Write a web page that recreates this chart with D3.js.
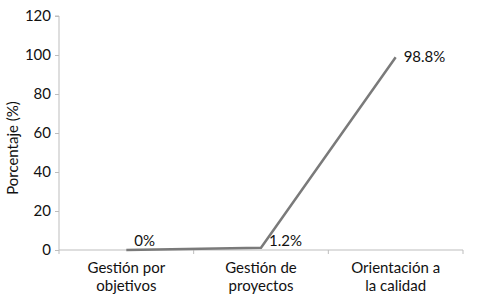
<!DOCTYPE html>
<html><head><meta charset="utf-8">
<script src="https://cdn.jsdelivr.net/npm/d3@7"></script>
<style>
html,body{margin:0;padding:0;background:#fff;}
text{font-family:Lato,"Open Sans",sans-serif;fill:#111;}
</style></head>
<body><svg id="c" width="477" height="297"></svg>
<script>
const categories = ["Gestión por\nobjetivos", "Gestión de\nproyectos", "Orientación a\nla calidad"];
const values = [0, 1.2, 98.8];
const valueLabels = ["0%", "1.2%", "98.8%"];
const yTicks = [0, 20, 40, 60, 80, 100, 120];
const yTitle = "Porcentaje (%)";

(function () {
const svg = d3.select("#c");
const mLeft = 59, mRight = 463, mTop = 16, mBottom = 250;
const fs = 15;
const x = d3.scaleBand().domain(categories).range([mLeft, mRight]);
const y = d3.scaleLinear().domain([0, 120]).range([mBottom, mTop]);
const axisColor = "#bdbdbd";

// y axis
const ya = svg.append("g").attr("transform", `translate(${mLeft},0)`)
  .call(d3.axisLeft(y).tickValues(yTicks).tickSize(4).tickPadding(4));
ya.select(".domain").attr("stroke", axisColor).attr("d", `M-4,${y(120)}H0V${mBottom}`);
ya.selectAll(".tick line").attr("stroke", axisColor);
ya.selectAll(".tick text").attr("font-size", fs).attr("fill", "#111")
  .style("font-family", 'Lato,"Open Sans",sans-serif');

// x axis
const xa = svg.append("g").attr("transform", `translate(0,${mBottom})`);
xa.append("line").attr("x1", mLeft).attr("x2", mRight).attr("y1", 0).attr("y2", 0).attr("stroke", axisColor);
const bounds = categories.map(c => x(c)).concat([mRight]);
xa.selectAll("line.t").data(bounds).join("line").attr("class", "t")
  .attr("x1", d => d).attr("x2", d => d).attr("y1", 0).attr("y2", 4).attr("stroke", axisColor);
categories.forEach(c => {
  c.split("\n").forEach((l, i) => {
    xa.append("text").attr("text-anchor", "middle").attr("font-size", fs)
      .attr("x", x(c) + x.bandwidth() / 2).attr("y", 23 + i * 18).text(l);
  });
});

// y title
svg.append("text").attr("transform", `translate(18,${(mTop + mBottom) / 2 + 15}) rotate(-90)`)
  .attr("text-anchor", "middle").attr("font-size", fs).text(yTitle);

// line
const cx = c => x(c) + x.bandwidth() / 2;
svg.append("path").datum(values)
  .attr("fill", "none").attr("stroke", "#7a7a7a").attr("stroke-width", 2.5)
  .attr("d", d3.line().x((d, i) => cx(categories[i])).y(d => y(d)));

// labels
const dyOff = [-4.5, -1.5, 5];
svg.selectAll("text.v").data(values).join("text").attr("class", "v")
  .attr("font-size", fs)
  .attr("x", (d, i) => cx(categories[i]) + 8)
  .attr("y", (d, i) => y(d) + dyOff[i])
  .text((d, i) => valueLabels[i]);
})();
</script></body></html>
